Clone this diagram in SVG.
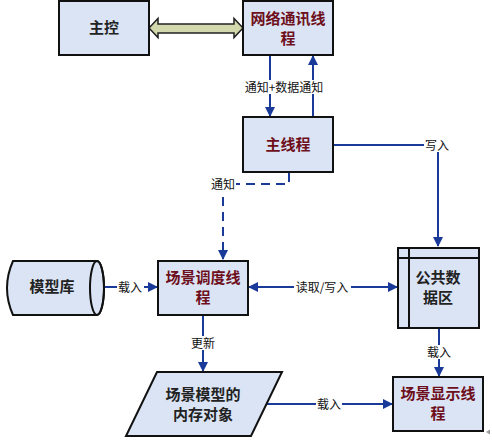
<svg xmlns="http://www.w3.org/2000/svg" width="492" height="441" viewBox="0 0 492 441">
<defs>
<style>
.box{fill:#dae4f4;stroke:#111;stroke-width:2}
.t{font-family:"Noto Sans CJK SC","Noto Sans",sans-serif;font-size:15px;font-weight:bold;text-anchor:middle}
.red{fill:#6e0f1c}
.blk{fill:#222}
.ln{fill:none;stroke:#1a3a9a;stroke-width:2}
.dash{stroke-dasharray:9,6}
.lbl{font-family:"Noto Sans CJK SC","Noto Sans",sans-serif;font-size:12px;fill:#111;text-anchor:middle}
.bg{fill:#fff}
</style>
<marker id="ah" viewBox="0 0 10 10" refX="9" refY="5" markerWidth="5" markerHeight="5" orient="auto-start-reverse" markerUnits="strokeWidth">
<path d="M0,0 L10,5 L0,10 z" fill="#1a3a9a"/>
</marker>
</defs>
<rect width="492" height="441" fill="#fff"/>

<g id="connectors">
<path d="M149,28 L158,18.5 L158,24 L234,24 L234,18.5 L243,28 L234,37.5 L234,33 L158,33 L158,37.5 Z" fill="#d3d9ad" stroke="#222" stroke-width="1.5"/>
<line class="ln" x1="270" y1="56" x2="270" y2="116" marker-end="url(#ah)"/>
<line class="ln" x1="313" y1="117" x2="313" y2="56" marker-end="url(#ah)"/>
<rect class="bg" x="243" y="80" width="82" height="14"/>
<text class="lbl" x="284" y="92">通知+数据通知</text>
<polyline class="ln" points="333,145 438,145 438,246" marker-end="url(#ah)"/>
<rect class="bg" x="424" y="138" width="26" height="14"/>
<text class="lbl" x="437" y="150">写入</text>
<polyline class="ln dash" points="289,173 289,184 223,184 223,259" marker-end="url(#ah)"/>
<rect class="bg" x="210" y="177" width="26" height="14"/>
<text class="lbl" x="223" y="189">通知</text>
<line class="ln" x1="104" y1="287" x2="157" y2="287" marker-end="url(#ah)"/>
<rect class="bg" x="117" y="280" width="27" height="14"/>
<text class="lbl" x="130" y="292">载入</text>
<line class="ln" x1="249" y1="287" x2="397" y2="287" marker-start="url(#ah)" marker-end="url(#ah)"/>
<rect class="bg" x="294" y="280" width="57" height="14"/>
<text class="lbl" x="322" y="292">读取/写入</text>
<line class="ln" x1="203" y1="316" x2="203" y2="371" marker-end="url(#ah)"/>
<rect class="bg" x="190" y="336" width="26" height="14"/>
<text class="lbl" x="203" y="348">更新</text>
<line class="ln" x1="265" y1="404" x2="392" y2="404" marker-end="url(#ah)"/>
<rect class="bg" x="316" y="397" width="26" height="14"/>
<text class="lbl" x="329" y="409">载入</text>
<line class="ln" x1="439" y1="329" x2="439" y2="376" marker-end="url(#ah)"/>
<rect class="bg" x="426" y="345" width="26" height="14"/>
<text class="lbl" x="439" y="357">载入</text>
</g>

<g id="zhukong">
<rect class="box" x="59" y="1" width="90" height="54"/>
<text class="t blk" x="104" y="33">主控</text>
</g>
<g id="wangluo">
<rect class="box" x="243" y="1" width="90" height="54"/>
<text class="t red" x="288" y="24">网络通讯线</text>
<text class="t red" x="288" y="44">程</text>
</g>
<g id="zhuxiancheng">
<rect class="box" x="243" y="117" width="90" height="55"/>
<text class="t red" x="288" y="150">主线程</text>
</g>
<g id="moxingku">
<path class="box" d="M13,261 L97,261 A7,27 0 0 1 97,315 L13,315 Q1,288 13,261 Z"/>
<ellipse cx="97" cy="288" rx="7" ry="27" fill="none" stroke="#111" stroke-width="2"/>
<text class="t blk" x="52" y="292">模型库</text>
</g>
<g id="diaodu">
<rect class="box" x="158" y="261" width="90" height="54"/>
<text class="t red" x="203" y="283">场景调度线</text>
<text class="t red" x="203" y="303">程</text>
</g>
<g id="gonggong">
<rect class="box" x="398" y="248" width="81" height="80"/>
<line x1="409" y1="248" x2="409" y2="328" stroke="#111" stroke-width="2"/>
<line x1="398" y1="258" x2="479" y2="258" stroke="#111" stroke-width="2"/>
<text class="t blk" x="438" y="283">公共数</text>
<text class="t blk" x="438" y="303">据区</text>
</g>
<g id="neicun">
<path class="box" d="M157,372 L282,372 L251,436 L126,436 Z"/>
<text class="t blk" x="203" y="400">场景模型的</text>
<text class="t blk" x="203" y="420">内存对象</text>
</g>
<g id="xianshi">
<rect class="box" x="393" y="377" width="90" height="54"/>
<text class="t red" x="438" y="399">场景显示线</text>
<text class="t red" x="438" y="419">程</text>
</g>
<path d="M486,432 L490,429.5 L490,434.5 Z" fill="#999"/>
</svg>
